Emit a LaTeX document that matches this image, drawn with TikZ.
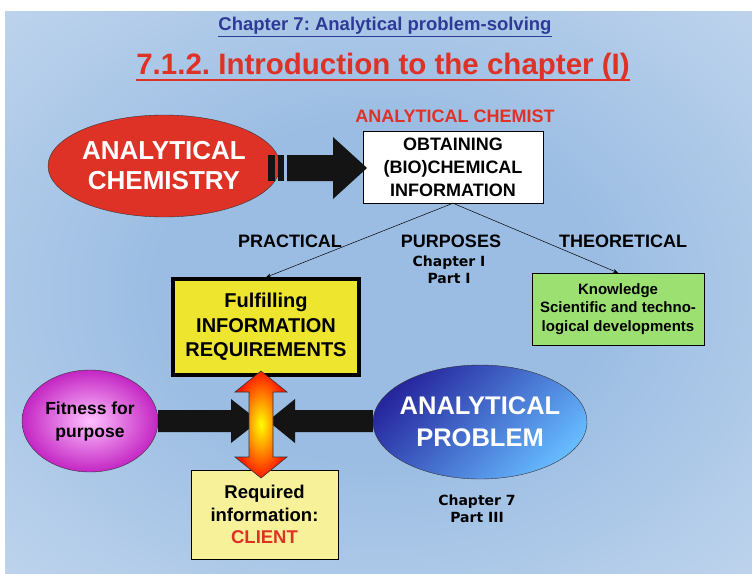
\documentclass[tikz,border=0pt]{standalone}
\usepackage{fontspec}
\setmainfont{Liberation Sans}
\newfontfamily\heavyfont{DejaVu Sans}
\usetikzlibrary{arrows.meta,positioning,calc,shapes.geometric}
\definecolor{hred}{HTML}{DE3226}
\definecolor{hblue}{HTML}{2E3A96}
\definecolor{hyel}{HTML}{EDE52E}
\definecolor{hpale}{HTML}{F7F29A}
\definecolor{hgreen}{HTML}{9BE070}
\definecolor{bgmid}{HTML}{9BBDE3}
\definecolor{bgring}{HTML}{C0D5ED}
\definecolor{bgedge}{HTML}{E0E4F3}
\definecolor{bgcorner}{HTML}{F6E8F6}
\pgfdeclareradialshading{bgshade}{\pgfpoint{0bp}{0bp}}{color(0bp)=(bgmid); color(15bp)=(bgmid); color(37bp)=(bgring); color(52bp)=(bgedge); color(72bp)=(bgcorner)}
\frenchspacing

\begin{document}
\begin{tikzpicture}[x=1pt, y=-1pt,
        lbl/.style={inner sep=0pt, align=center, font=\bfseries},
        small/.style={inner sep=0pt, align=center, font=\heavyfont\bfseries\fontsize{14}{17}\selectfont},
        blk/.style={fill=black!92, draw=none},
        thinarr/.style={-{Stealth[length=5pt, width=4pt]}, black, line width=0.5pt}]
        \useasboundingbox (0,0) rectangle (752,573);
        \shade[shading=bgshade] (5,11) rectangle (752,573);
        % headings
        \node[lbl, text=hblue, font=\bfseries\fontsize{18.5}{22}\selectfont] (sub) at (385,27) {\underline{Chapter 7: Analytical problem-solving}};
        \node[lbl, text=hred, font=\bfseries\fontsize{29.5}{34}\selectfont] (title) at (383,67) {7.1.2. Introduction to the chapter (I)};
        \draw[hred, line width=2.2pt] ([yshift=-5pt]title.base west) -- ([yshift=-5pt]title.base east);
        % top row
        \node[ellipse, draw=black!80, fill=hred, minimum width=232pt, minimum height=102pt, inner sep=0pt] (chem) at (164,166) {};
        \node[lbl, text=white, font=\bfseries\fontsize{26}{30}\selectfont] at (chem) {ANALYTICAL\\CHEMISTRY};
        \node[lbl, text=hred, font=\bfseries\fontsize{18}{22}\selectfont] (chemist) at (455,116) {ANALYTICAL CHEMIST};
        \node[draw=black, fill=white, minimum width=180pt, minimum height=72pt, inner sep=0pt,
              align=center, font=\bfseries\fontsize{18}{23}\selectfont] (obt) at (453,167) {OBTAINING\\(BIO)CHEMICAL\\INFORMATION};
        \fill[blk] (268,155) rectangle (275,181);
        \fill[blk] (278,155) rectangle (284,181);
        \fill[blk] (287,155) -- (333,155) -- (333,137) -- (367,168) -- (333,199) -- (333,181) -- (287,181) -- cycle;
        % purposes
        \node[lbl, font=\bfseries\fontsize{18}{22}\selectfont] (prac) at (290,241) {PRACTICAL};
        \node[lbl, font=\bfseries\fontsize{18}{22}\selectfont] (purp) at (451,241) {PURPOSES};
        \node[lbl, font=\bfseries\fontsize{18}{22}\selectfont] (theo) at (623,241) {THEORETICAL};
        \node[small] (chI) at (449,270) {Chapter I\\Part I};
        \node[draw=black, line width=3.5pt, fill=hyel, minimum width=186pt, minimum height=96pt, inner sep=0pt,
              align=center, font=\bfseries\fontsize{20}{24.5}\selectfont] (fulfil) at (266,327) {Fulfilling\\INFORMATION\\REQUIREMENTS};
        \node[draw=black, fill=hgreen, minimum width=172pt, minimum height=72pt, inner sep=0pt,
              align=center, font=\bfseries\fontsize{15}{18.5}\selectfont] (know) at (618,309) {Knowledge\\Scientific and techno-\\logical developments};
        \draw[thinarr] (obt.south) -- (fulfil.north);
        \draw[thinarr] (obt.south) -- (know.north);
        % bottom row
        \node[ellipse, draw=black!80, inner color=magenta!25, outer color=violet!55!magenta!85, minimum width=136pt, minimum height=102pt,
              inner sep=0pt, align=center, font=\bfseries\fontsize{17.5}{23}\selectfont] (fit) at (90,421) {Fitness for\\purpose};
        \node[ellipse, draw=black!80, top color=blue!55!black!85, bottom color=cyan!55!blue!60, shading angle=45,
              minimum width=214pt, minimum height=114pt, inner sep=0pt] (prob) at (480,422) {};
        \node[lbl, text=white, font=\bfseries\fontsize{25.5}{32}\selectfont] at (prob) {ANALYTICAL\\PROBLEM};
        \node[draw=black, fill=hpale, minimum width=147pt, minimum height=89pt, inner sep=0pt,
              align=center, font=\bfseries\fontsize{18.5}{22.5}\selectfont] (req) at (264.5,514.5) {Required\\information:\\\textcolor{hred}{CLIENT}};
        \node[small] (chVII) at (477,509) {Chapter 7\\Part III};
        \fill[blk] (fit.east |- 0,410) -- (231,410) -- (231,399) -- (259,421) -- (231,443) -- (231,432) -- (fit.east |- 0,432) -- cycle;
        \fill[blk] (prob.west |- 0,410) -- (295,410) -- (295,399) -- (268,421) -- (295,443) -- (295,432) -- (prob.west |- 0,432) -- cycle;
        \shade[draw=black!80, line width=0.6pt, inner color=yellow, outer color=red!80!orange]
            (261,371) -- (287,392) -- (273,392) -- (273,457) -- (287,457) -- (261,478) -- (235,457) -- (249,457) -- (249,392) -- (235,392) -- cycle;
      \end{tikzpicture}
\end{document}
